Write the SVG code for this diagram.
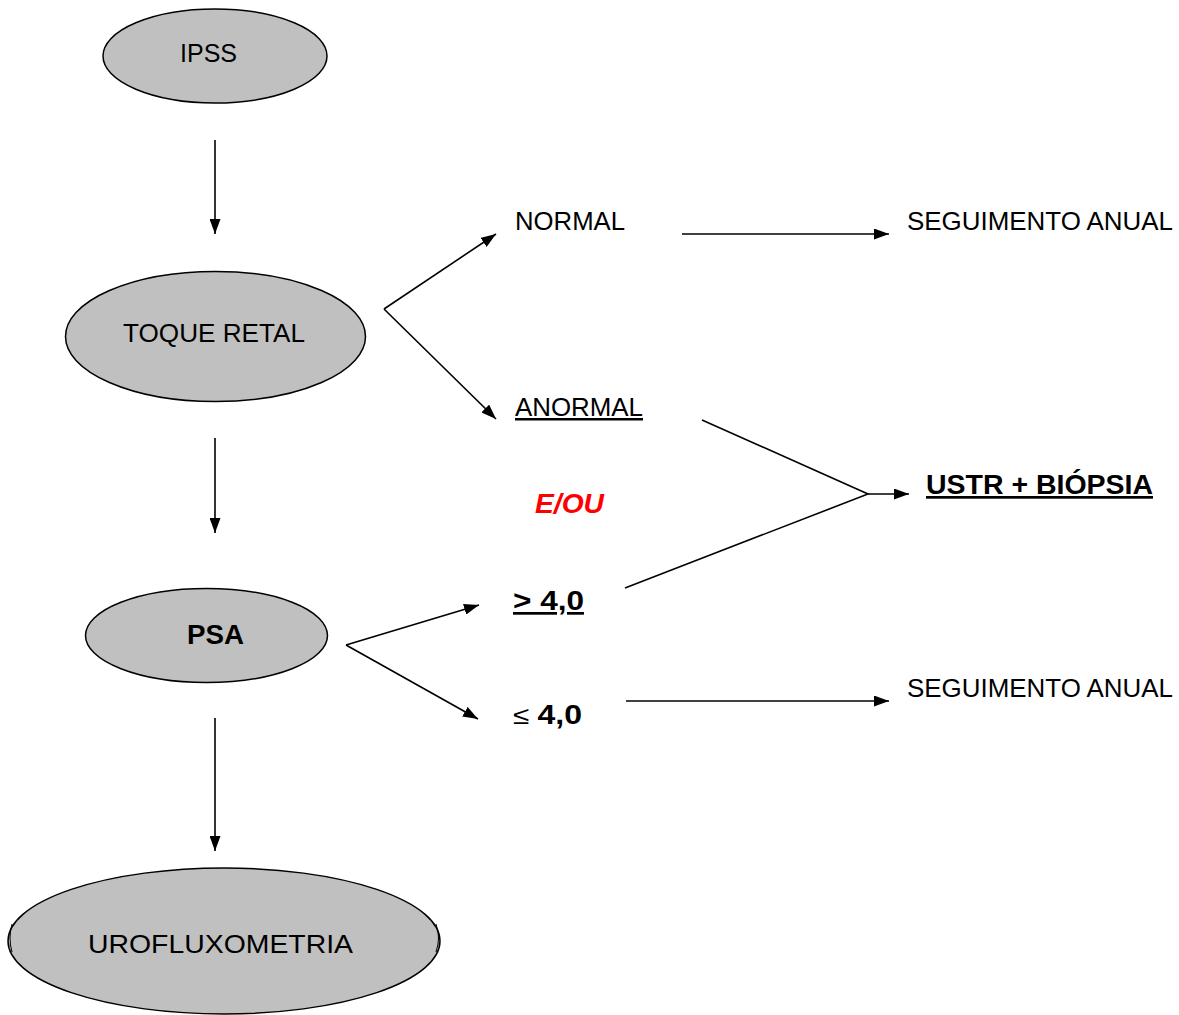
<svg xmlns="http://www.w3.org/2000/svg" width="1179" height="1015" viewBox="0 0 1179 1015">
<style>
.node{fill:#c0c0c0;stroke:#000;stroke-width:1.5}
.t{font-family:"Liberation Sans",Arial,sans-serif;font-size:25px;fill:#000}
.b{font-weight:bold;font-size:27px}
.u{text-decoration:underline}
.c line,.c polyline{stroke:#000;stroke-width:1.6;fill:none}
</style>
<defs>
<marker id="ah" viewBox="0 0 15 11" refX="15" refY="5.5" markerWidth="15" markerHeight="11" markerUnits="userSpaceOnUse" orient="auto">
<path d="M0,0 L15,5.5 L0,11 Z" fill="#000"/>
</marker>
</defs>
<rect width="1179" height="1015" fill="#fff"/>
<g id="ipss"><ellipse class="node" cx="215" cy="56" rx="112" ry="47"/><text class="t" x="180" y="62" textLength="57" lengthAdjust="spacingAndGlyphs">IPSS</text></g>
<g id="toque"><ellipse class="node" cx="215.5" cy="336.5" rx="150" ry="65"/><text class="t" x="123" y="342" textLength="182" lengthAdjust="spacingAndGlyphs">TOQUE RETAL</text></g>
<g id="psa"><ellipse class="node" cx="206.5" cy="635.5" rx="121" ry="47"/><text class="t b" x="187" y="644" textLength="57" lengthAdjust="spacingAndGlyphs">PSA</text></g>
<g id="uro"><ellipse class="node" cx="224" cy="941" rx="216" ry="73"/><path d="M12,924 Q8,938 12,952 M436,924 Q441,938 436,952" fill="none" stroke="#000" stroke-width="1"/><text class="t" x="88" y="953" textLength="265" lengthAdjust="spacingAndGlyphs">UROFLUXOMETRIA</text></g>
<g id="normal"><text class="t" x="515" y="230" textLength="110" lengthAdjust="spacingAndGlyphs">NORMAL</text></g>
<g id="seg1"><text class="t" x="907" y="230" textLength="266" lengthAdjust="spacingAndGlyphs">SEGUIMENTO ANUAL</text></g>
<g id="anormal"><text class="t u" x="515" y="416" textLength="128" lengthAdjust="spacingAndGlyphs">ANORMAL</text></g>
<g id="eou"><text class="t b" x="535" y="513" font-style="italic" style="fill:#ff0000" textLength="69" lengthAdjust="spacingAndGlyphs">E/OU</text></g>
<g id="ustr"><text class="t b u" x="926" y="494" textLength="227" lengthAdjust="spacingAndGlyphs">USTR + BIÓPSIA</text></g>
<g id="gt4"><text class="t b u" x="513" y="610" textLength="71" lengthAdjust="spacingAndGlyphs">&gt; 4,0</text></g>
<g id="le4"><text class="t" x="513" y="724" textLength="69" lengthAdjust="spacingAndGlyphs">≤ <tspan class="b">4,0</tspan></text></g>
<g id="seg2"><text class="t" x="907" y="697" textLength="266" lengthAdjust="spacingAndGlyphs">SEGUIMENTO ANUAL</text></g>
<g id="connectors" class="c">
<line x1="215" y1="140" x2="215" y2="234" marker-end="url(#ah)"/>
<line x1="215" y1="438" x2="215" y2="533" marker-end="url(#ah)"/>
<line x1="215" y1="718" x2="215" y2="851" marker-end="url(#ah)"/>
<line x1="384" y1="309" x2="496" y2="234" marker-end="url(#ah)"/>
<line x1="384" y1="309" x2="496" y2="419" marker-end="url(#ah)"/>
<line x1="682" y1="234" x2="889" y2="234" marker-end="url(#ah)"/>
<polyline points="702,420 868,494 625,588"/>
<line x1="868" y1="494" x2="909" y2="494" marker-end="url(#ah)"/>
<line x1="346" y1="645" x2="479" y2="605" marker-end="url(#ah)"/>
<line x1="346" y1="645" x2="478" y2="719" marker-end="url(#ah)"/>
<line x1="626" y1="701" x2="889" y2="701" marker-end="url(#ah)"/>
</g>
</svg>
